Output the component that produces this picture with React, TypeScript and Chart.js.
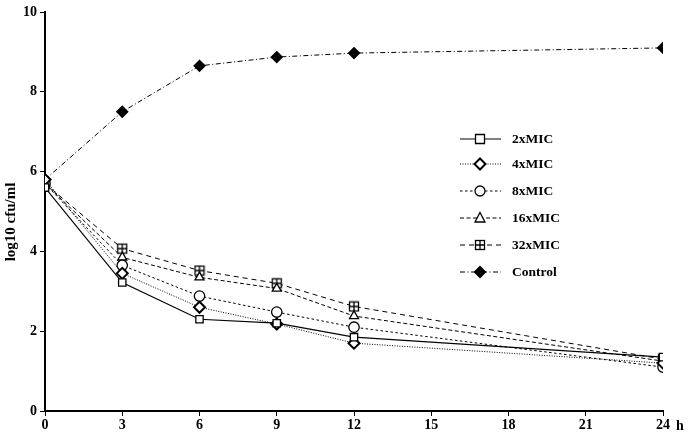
import React, { useEffect, useRef } from "react";
import { Chart, registerables } from "chart.js";

Chart.register(...registerables);

const hours = [0, 3, 6, 9, 12, 24];
const mic2 = [5.6, 3.22, 2.3, 2.2, 1.85, 1.35];
const mic4 = [5.8, 3.45, 2.6, 2.18, 1.7, 1.2];
const mic8 = [5.7, 3.65, 2.88, 2.48, 2.1, 1.1];
const mic16 = [5.7, 3.85, 3.35, 3.07, 2.38, 1.25];
const mic32 = [5.7, 4.07, 3.52, 3.2, 2.62, 1.3];
const control = [5.8, 7.5, 8.65, 8.87, 8.97, 9.1];
const seriesNames = ["2xMIC", "4xMIC", "8xMIC", "16xMIC", "32xMIC", "Control"];

const FONT = "'Liberation Serif', 'Times New Roman', serif";

function boxPlus(): HTMLCanvasElement {
  const c = document.createElement("canvas");
  c.width = 12;
  c.height = 12;
  const g = c.getContext("2d")!;
  g.fillStyle = "#fff";
  g.fillRect(1, 1, 10, 10);
  g.strokeStyle = "#000";
  g.lineWidth = 1.3;
  g.strokeRect(1.5, 1.5, 9, 9);
  g.beginPath();
  g.moveTo(6, 1.5);
  g.lineTo(6, 10.5);
  g.moveTo(1.5, 6);
  g.lineTo(10.5, 6);
  g.stroke();
  return c;
}

type Sty = { dash: number[]; point: any; fill: string; width: number };

export default function App() {
  const ref = useRef<HTMLCanvasElement | null>(null);
  useEffect(() => {
    const bp = boxPlus();
    const styles: Sty[] = [
      { dash: [], point: "rect", fill: "#fff", width: 1.2 },
      { dash: [1, 1.5], point: "rectRot", fill: "#fff", width: 1 },
      { dash: [2.5, 2.5], point: "circle", fill: "#fff", width: 1 },
      { dash: [4, 2.5], point: "triangle", fill: "#fff", width: 1 },
      { dash: [5, 4], point: bp, fill: "#fff", width: 1 },
      { dash: [5, 2.5, 1, 2.5], point: "rectRot", fill: "#000", width: 1 },
    ];
    const allSeries = [mic2, mic4, mic8, mic16, mic32, control];
    const datasets = allSeries.map((vals, i) => ({
      label: seriesNames[i],
      data: hours.map((h, j) => ({ x: h, y: vals[j] })),
      borderColor: "#000",
      borderWidth: styles[i].width,
      borderDash: styles[i].dash,
      pointStyle: styles[i].point,
      pointRadius: i === 1 || i === 5 ? 5.5 : 5.2,
      pointBackgroundColor: styles[i].fill,
      pointBorderColor: "#000",
      pointBorderWidth: i === 1 ? 2 : 1.3,
      tension: 0,
      fill: false,
    }));

    const deco = {
      id: "deco",
      afterDraw(chart: any) {
        const ctx = chart.ctx as CanvasRenderingContext2D;
        ctx.save();
        ctx.fillStyle = "#000";
        ctx.font = `bold 14px ${FONT}`;
        ctx.textBaseline = "middle";
        ctx.textAlign = "left";
        ctx.fillText("h", 676, 426);
        // y title
        ctx.save();
        ctx.translate(11, 222);
        ctx.rotate(-Math.PI / 2);
        ctx.textAlign = "center";
        ctx.font = `bold 15px ${FONT}`;
        ctx.fillText("log10 cfu/ml", 0, 0);
        ctx.restore();
        // legend
        ctx.font = `bold 13.5px ${FONT}`;
        const rows = [139, 164, 191, 218, 245, 272];
        rows.forEach((y, i) => {
          const s = styles[i];
          ctx.strokeStyle = "#000";
          ctx.lineWidth = s.width;
          ctx.setLineDash(s.dash);
          ctx.beginPath();
          ctx.moveTo(460, y);
          ctx.lineTo(501, y);
          ctx.stroke();
          ctx.setLineDash([]);
          const cx = 480;
          ctx.lineWidth = i === 1 ? 2 : 1.3;
          ctx.fillStyle = s.fill;
          ctx.beginPath();
          if (s.point === "rect") {
            ctx.rect(cx - 4.5, y - 4.5, 9, 9);
          } else if (s.point === "rectRot") {
            const r = 5.5;
            ctx.moveTo(cx, y - r);
            ctx.lineTo(cx + r, y);
            ctx.lineTo(cx, y + r);
            ctx.lineTo(cx - r, y);
            ctx.closePath();
          } else if (s.point === "circle") {
            ctx.arc(cx, y, 5, 0, Math.PI * 2);
          } else if (s.point === "triangle") {
            ctx.moveTo(cx, y - 5.5);
            ctx.lineTo(cx + 5, y + 4);
            ctx.lineTo(cx - 5, y + 4);
            ctx.closePath();
          }
          if (typeof s.point === "string") {
            ctx.fill();
            ctx.stroke();
          } else {
            ctx.drawImage(s.point, cx - 6, y - 6);
          }
          ctx.fillStyle = "#000";
          ctx.textAlign = "left";
          ctx.fillText(seriesNames[i], 512, y + 1);
        });
        ctx.restore();
      },
    };

    const chart = new Chart(ref.current!, {
      type: "line",
      data: { datasets: datasets as any },
      options: {
        animation: false,
        responsive: false,
        layout: { padding: { top: 12, right: 25, left: 0, bottom: 0 } },
        plugins: { legend: { display: false }, tooltip: { enabled: false } },
        scales: {
          x: {
            type: "linear",
            min: 0,
            max: 24,
            afterFit(scale: any) {
              scale.height = 27;
            },
            ticks: {
              stepSize: 3,
              color: "#000",
              font: { family: FONT, size: 14, weight: "bold" },
              padding: 1,
              maxRotation: 0,
            },
            grid: { drawOnChartArea: false, drawTicks: true, tickLength: 5, color: "#000" },
            border: { display: true, color: "#000", width: 2 },
          },
          y: {
            min: 0,
            max: 10,
            afterFit(scale: any) {
              scale.width = 45;
            },
            ticks: {
              stepSize: 2,
              color: "#000",
              font: { family: FONT, size: 14, weight: "bold" },
              padding: 3,
            },
            grid: { drawOnChartArea: false, drawTicks: true, tickLength: 5, color: "#000" },
            border: { display: true, color: "#000", width: 2 },
          },
        },
      },
      plugins: [deco],
    });
    return () => chart.destroy();
  }, []);
  return (
    <div style={{ position: "fixed", left: 0, top: 0, width: 688, height: 438, background: "#fff" }}>
      <canvas ref={ref} width={688} height={438} style={{ width: 688, height: 438 }} />
    </div>
  );
}
